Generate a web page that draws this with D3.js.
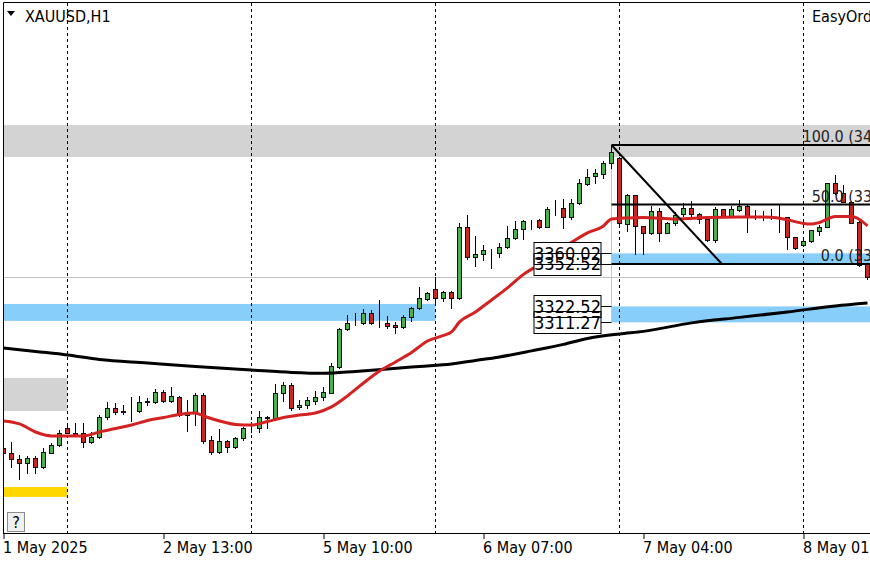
<!DOCTYPE html>
<html>
<head>
<meta charset="utf-8">
<script src="https://cdn.jsdelivr.net/npm/d3@7"></script>
<style>
  body { margin: 0; background: #fff; }
  svg { display: block; }
</style>
</head>
<body>
<div id="chart-area"></div>
<script>
// XAUUSD H1, bar 0 = 1 May 17:00
var opens  = [3222.3,3219.2,3214.5,3211.7,3215.2,3208.8,3219.2,3224.6,3236.4,3233.3,
              3232.9,3226.9,3230.5,3244.2,3251.0,3248.1,3248.3,3248.8,3255.2,3254.8,
              3261.9,3255.9,3258.3,3245.8,3247.0,3260.0,3228.1,3219.9,3227.4,3223.0,
              3229.3,3236.4,3236.6,3244.2,3243.5,3261.2,3267.0,3251.2,3252.9,3255.9,
              3258.3,3261.6,3280.0,3306.4,3310.6,3310.6,3317.7,3311.1,3310.6,3309.4,
              3307.8,3314.9,3321.2,3327.8,3334.7,3328.7,3332.6,3328.3,3378.9,3357.3,
              3359.4,3362.5,3360.6,3364.3,3370.7,3377.1,3383.0,3383.7,3378.9,3391.9,
              3391.9,3386.0,3395.5,3409.0,3414.7,3416.0,3423.7,3427.7,3380.6,3401.3,
              3379.4,3374.3,3390.2,3374.7,3381.7,3387.9,3391.9,3387.9,3384.2,3369.2,
              3391.2,3386.5,3390.7,3393.6,3386.5,3386.3,3386.4,3385.8,3385.6,3371.3,
              3366.0,3369.1,3375.5,3378.9,3409.5,3402.4,3396.6,3382.5,3353.0];
var highs  = [3229.3,3226.9,3217.5,3216.6,3216.6,3222.3,3225.8,3235.2,3240.4,3239.9,
              3240.4,3234.0,3245.8,3255.2,3254.1,3252.9,3258.8,3259.3,3257.6,3264.0,
              3263.5,3265.8,3259.3,3256.4,3261.1,3261.1,3230.9,3235.7,3228.1,3230.0,
              3237.5,3241.1,3248.8,3245.1,3267.7,3269.1,3268.2,3256.4,3258.8,3263.0,
              3265.8,3282.4,3307.1,3316.5,3317.7,3320.5,3320.0,3327.1,3315.8,3311.8,
              3316.5,3322.4,3336.1,3333.0,3343.2,3333.7,3333.7,3381.3,3387.2,3372.1,
              3365.6,3363.0,3367.1,3379.4,3383.2,3383.7,3383.7,3384.2,3393.1,3397.8,
              3398.2,3398.2,3412.4,3419.4,3419.4,3425.5,3436.6,3428.4,3402.0,3401.5,
              3379.6,3393.6,3391.9,3382.3,3389.5,3395.9,3397.3,3388.8,3384.9,3392.6,
              3391.4,3393.6,3397.8,3394.0,3390.7,3390.2,3391.2,3394.3,3385.8,3371.5,
              3369.6,3376.6,3380.1,3409.9,3415.4,3408.3,3396.8,3382.7,3353.2];
var lows   = [3213.5,3209.3,3200.4,3204.6,3205.0,3208.1,3218.7,3223.9,3232.9,3231.0,
              3223.4,3226.2,3229.3,3242.8,3246.5,3246.5,3241.8,3248.1,3252.9,3254.1,
              3255.2,3255.2,3245.1,3234.7,3238.7,3225.8,3218.0,3219.2,3219.9,3222.3,
              3228.1,3234.0,3234.0,3236.4,3242.8,3255.9,3249.3,3249.8,3250.5,3253.6,
              3256.4,3261.1,3278.9,3305.9,3309.4,3310.1,3310.1,3307.8,3307.1,3303.6,
              3307.1,3312.5,3320.5,3327.1,3324.8,3326.6,3321.2,3327.8,3355.9,3351.0,
              3355.3,3349.5,3357.7,3363.6,3370.0,3370.0,3377.1,3377.8,3378.5,3387.2,
              3377.8,3384.2,3395.0,3408.3,3410.1,3413.2,3420.2,3380.9,3376.1,3359.6,
              3359.6,3373.8,3368.9,3374.3,3380.1,3386.5,3386.5,3381.8,3369.0,3368.3,
              3386.5,3385.8,3390.2,3375.4,3384.2,3383.7,3384.2,3375.4,3362.8,3362.8,
              3365.3,3368.4,3373.1,3378.5,3401.9,3396.0,3381.4,3351.0,3341.7];
var closes = [3219.2,3214.5,3211.7,3215.2,3209.3,3219.5,3224.6,3233.3,3233.3,3231.7,
              3226.9,3230.5,3244.4,3251.0,3247.7,3248.3,3248.6,3255.2,3255.5,3261.9,
              3255.9,3259.3,3245.8,3247.2,3260.0,3227.6,3219.9,3227.4,3223.0,3229.3,
              3236.4,3236.6,3244.2,3244.0,3261.2,3267.0,3250.5,3252.9,3256.4,3258.8,
              3262.3,3280.5,3306.4,3310.6,3310.8,3317.7,3311.1,3310.9,3308.9,3307.8,
              3315.3,3321.2,3328.3,3331.9,3328.7,3332.6,3328.3,3378.9,3357.3,3359.4,
              3362.5,3362.3,3364.3,3370.7,3377.1,3383.0,3383.2,3378.5,3391.2,3392.0,
              3386.0,3395.9,3409.5,3414.3,3416.6,3423.7,3431.4,3381.3,3401.3,3379.4,
              3374.3,3390.2,3374.7,3381.7,3387.1,3391.9,3387.7,3384.2,3369.2,3391.2,
              3386.5,3391.2,3393.6,3386.5,3386.3,3386.4,3386.0,3385.6,3371.3,3363.6,
              3369.1,3376.2,3378.9,3409.7,3402.4,3396.6,3381.8,3351.8,3343.4];

// moving averages (bar index, price)
var redMaBars   = [0,2,4,6,8,10,12,14,16,18,20,22,24,25,27,29,31,33,35,37,39,41,43,45,47,49,51,53,55,56,57,59,61,63,65,67,69,71,73,75,76,78,80,84,88,92,96,98,100,101,102,104,106,107,108];
var redMaValues = [3241.6,3239.5,3233.8,3231.0,3231.0,3231.0,3233.8,3236.3,3238.7,3241.9,3244.0,3246.2,3247.2,3245.1,3241.6,3239.1,3238.7,3241.2,3244.0,3245.8,3247.2,3251.5,3259.3,3268.4,3276.9,3283.3,3290.0,3298.1,3302.0,3304.5,3311.6,3318.6,3327.1,3335.6,3345.2,3352.2,3360.3,3367.8,3374.5,3379.4,3384.4,3385.1,3385.4,3384.4,3385.4,3385.8,3385.6,3383.7,3381.2,3380.8,3381.9,3386.0,3386.1,3384.0,3379.4];
var blackMaBars   = [0,4,8,12,18,24,31,36,40,44,48,52,56,59,62,66,70,73,77,80,86,92,98,104,108];
var blackMaValues = [3293.2,3290.7,3288.2,3285.0,3282.6,3280.1,3277.6,3275.9,3275.3,3276.6,3278.3,3280.1,3281.9,3284.3,3286.8,3291.1,3295.7,3299.9,3303.1,3304.9,3310.9,3314.8,3318.6,3322.9,3325.0];

var tickBars   = [0, 20, 40, 60, 80, 100];
var tickLabels = ["1 May 2025", "2 May 13:00", "5 May 10:00", "6 May 07:00", "7 May 04:00", "8 May 01:00"];
var daySepBars = [8, 31, 54, 77, 100];

// zones
var zoneStart = [-2, -2, -2, -2, 76, 76];
var zoneEnd   = [120, 54, 8, 8, 120, 120];
var zoneHigh  = [3450.7, 3324.3, 3272.0, 3194.9, 3360.02, 3322.52];
var zoneLow   = [3428.1, 3312.3, 3248.6, 3187.9, 3352.52, 3311.27];
var zoneKind  = ["supply", "demand", "supply", "mark", "demand", "demand"];

var labelPrices = [3360.02, 3352.52, 3322.52, 3311.27];
var labelBar = 76;

// fibo
var fibStartBar = 76, fibEndBar = 89.8;
var fibHigh = 3436.60, fibLow = 3352.52;
var fibLevels = [100, 50, 0];

var W = 870, H = 562;
var plotLeft = 3, plotTop = 3, plotRight = 870, plotBottom = 533;
var font = "'DejaVu Sans Condensed', 'DejaVu Sans', sans-serif";

var svg = d3.select("#chart-area")
    .append("svg")
    .attr("width", W)
    .attr("height", H);

svg.append("defs").append("clipPath")
    .attr("id", "plot-clip")
  .append("rect")
    .attr("x", plotLeft).attr("y", plotTop)
    .attr("width", plotRight - plotLeft).attr("height", plotBottom - plotTop);

var x = d3.scaleLinear().domain([0, 108]).range([3.5, 867.5]);
var y = d3.scaleLinear().domain([3162.4, 3539.1]).range([plotBottom, 0]);

var plot = svg.append("g").attr("clip-path", "url(#plot-clip)");

var zoneColor = {supply: "#d3d3d3", demand: "#87cefa", mark: "#ffd700"};

plot.selectAll("rect.zone")
    .data(zoneHigh)
    .enter()
    .append("rect")
    .attr("class", "zone")
    .attr("x", function(d, i){ return x(zoneStart[i]); })
    .attr("y", function(d){ return y(d); })
    .attr("width", function(d, i){ return x(zoneEnd[i]) - x(zoneStart[i]); })
    .attr("height", function(d, i){ return y(zoneLow[i]) - y(d); })
    .attr("fill", function(d, i){ return zoneColor[zoneKind[i]]; });

// thin edge of the right zones
plot.append("line")
    .attr("x1", x(labelBar)).attr("x2", x(labelBar))
    .attr("y1", y(fibHigh)).attr("y2", y(zoneLow[5]))
    .attr("stroke", "#9fd3ee")
    .attr("stroke-width", 1);

// bid line
var lastClose = closes[closes.length - 1];
plot.append("line")
    .attr("x1", plotLeft).attr("x2", plotRight)
    .attr("y1", Math.round(y(lastClose)) + 0.5).attr("y2", Math.round(y(lastClose)) + 0.5)
    .attr("stroke", "#c0c0c0")
    .attr("stroke-width", 1);

// period separators
plot.selectAll("line.sep")
    .data(daySepBars)
    .enter()
    .append("line")
    .attr("class", "sep")
    .attr("x1", function(d){ return x(d); })
    .attr("x2", function(d){ return x(d); })
    .attr("y1", plotTop).attr("y2", plotBottom)
    .attr("stroke", "#000")
    .attr("stroke-width", 1)
    .attr("stroke-dasharray", "3,3");

// candles
var bars = d3.range(opens.length);
var candles = plot.selectAll("g.candle")
    .data(bars)
    .enter()
    .append("g")
    .attr("class", "candle")
    .attr("shape-rendering", "crispEdges");

candles.append("line")
    .attr("x1", function(i){ return x(i); })
    .attr("x2", function(i){ return x(i); })
    .attr("y1", function(i){ return Math.round(y(highs[i])); })
    .attr("y2", function(i){ return Math.round(y(lows[i])) + 1; })
    .attr("stroke", "#000")
    .attr("stroke-width", 1);

candles.append("rect")
    .attr("x", function(i){ return x(i) - 2; })
    .attr("y", function(i){ return Math.round(y(Math.max(opens[i], closes[i]))) + 0.5; })
    .attr("width", 4)
    .attr("height", function(i){
        return Math.round(y(Math.min(opens[i], closes[i]))) - Math.round(y(Math.max(opens[i], closes[i])));
    })
    .attr("fill", function(i){ return closes[i] >= opens[i] ? "#4cae50" : "#c62828"; })
    .attr("stroke", "#111")
    .attr("stroke-width", 1);

// moving averages
var maLine = d3.line()
    .x(function(d){ return x(d[0]); })
    .y(function(d){ return y(d[1]); })
    .curve(d3.curveMonotoneX);

plot.append("path")
    .datum(blackMaBars.map(function(b, i){ return [b, blackMaValues[i]]; }))
    .attr("d", maLine)
    .attr("fill", "none")
    .attr("stroke", "#000")
    .attr("stroke-width", 3);

plot.append("path")
    .datum(redMaBars.map(function(b, i){ return [b, redMaValues[i]]; }))
    .attr("d", maLine)
    .attr("fill", "none")
    .attr("stroke", "#d42222")
    .attr("stroke-width", 3);

// fibo retracement
plot.append("line")
    .attr("x1", x(fibStartBar)).attr("y1", y(fibHigh))
    .attr("x2", x(fibEndBar)).attr("y2", y(fibLow))
    .attr("stroke", "#000")
    .attr("stroke-width", 2);

plot.selectAll("line.fib")
    .data(fibLevels)
    .enter()
    .append("line")
    .attr("class", "fib")
    .attr("x1", x(fibStartBar))
    .attr("x2", plotRight)
    .attr("y1", function(d){ return y(fibLow + (fibHigh - fibLow) * d / 100); })
    .attr("y2", function(d){ return y(fibLow + (fibHigh - fibLow) * d / 100); })
    .attr("stroke", "#000")
    .attr("stroke-width", 2);

plot.selectAll("text.fib")
    .data(fibLevels)
    .enter()
    .append("text")
    .attr("class", "fib")
    .attr("x", 919)
    .attr("y", function(d){ return y(fibLow + (fibHigh - fibLow) * d / 100) - 3; })
    .attr("text-anchor", "end")
    .attr("font-family", font)
    .attr("font-size", "16px")
    .attr("fill", "#222")
    .text(function(d){
        var p = fibLow + (fibHigh - fibLow) * d / 100;
        return d.toFixed(1) + " (" + p.toFixed(2) + ")";
    });

// price labels of the right zones
var boxRight = x(labelBar) - 10.5, boxW = 67, boxH = 22;
var labels = svg.append("g");

labels.selectAll("line.tag")
    .data(labelPrices)
    .enter()
    .append("line")
    .attr("x1", boxRight).attr("x2", x(labelBar))
    .attr("y1", function(d){ return Math.round(y(d)) + 0.5; })
    .attr("y2", function(d){ return Math.round(y(d)) + 0.5; })
    .attr("stroke", "#000");

labels.selectAll("rect.bg")
    .data(labelPrices)
    .enter()
    .append("rect")
    .attr("x", boxRight - boxW)
    .attr("y", function(d){ return Math.round(y(d) - boxH / 2) + 0.5; })
    .attr("width", boxW).attr("height", boxH)
    .attr("fill", "#fff");

labels.selectAll("rect.box")
    .data(labelPrices)
    .enter()
    .append("rect")
    .attr("x", boxRight - boxW)
    .attr("y", function(d){ return Math.round(y(d) - boxH / 2) + 0.5; })
    .attr("width", boxW).attr("height", boxH)
    .attr("fill", "none")
    .attr("stroke", "#000");

labels.selectAll("text")
    .data(labelPrices)
    .enter()
    .append("text")
    .attr("x", boxRight - boxW / 2)
    .attr("y", function(d){ return y(d) + 6.5; })
    .attr("text-anchor", "middle")
    .attr("font-family", font)
    .attr("font-size", "18px")
    .attr("fill", "#000")
    .text(function(d){ return d.toFixed(2); });

// frame
svg.append("path")
    .attr("d", "M" + (plotLeft + 0.5) + "," + (plotBottom + 0.5) + "V" + (plotTop - 0.5) + "H" + plotRight)
    .attr("fill", "none")
    .attr("stroke", "#000");
svg.append("line")
    .attr("x1", plotLeft).attr("x2", plotRight)
    .attr("y1", plotBottom + 0.5).attr("y2", plotBottom + 0.5)
    .attr("stroke", "#000");

// time axis
var xAxisCall = d3.axisBottom(x)
    .tickValues(tickBars)
    .tickFormat(function(d, i){ return tickLabels[i]; })
    .tickSize(5)
    .tickSizeOuter(0);

var xAxis = svg.append("g")
    .attr("transform", "translate(0," + (plotBottom + 1) + ")")
    .call(xAxisCall);
xAxis.select(".domain").remove();
xAxis.selectAll("line").attr("stroke", "#000");
xAxis.selectAll("text")
    .attr("text-anchor", "start")
    .attr("x", -1)
    .attr("font-family", font)
    .attr("font-size", "16px")
    .attr("fill", "#000");

// header texts
svg.append("path")
    .attr("d", "M7,11 L15,11 L11,16 Z")
    .attr("fill", "#000");
svg.append("text")
    .attr("x", 25).attr("y", 22)
    .attr("font-family", font)
    .attr("font-size", "16px")
    .attr("fill", "#000")
    .text("XAUUSD,H1");
svg.append("text")
    .attr("x", 812).attr("y", 22)
    .attr("font-family", font)
    .attr("font-size", "16px")
    .attr("fill", "#000")
    .text("EasyOrder");

// help button
svg.append("rect")
    .attr("x", 7.5).attr("y", 512.5)
    .attr("width", 17).attr("height", 19)
    .attr("fill", "#f0f0f0")
    .attr("stroke", "#8a8a8a");
svg.append("text")
    .attr("x", 16).attr("y", 528)
    .attr("text-anchor", "middle")
    .attr("font-family", font)
    .attr("font-size", "16px")
    .attr("fill", "#000")
    .text("?");
</script>
</body>
</html>
